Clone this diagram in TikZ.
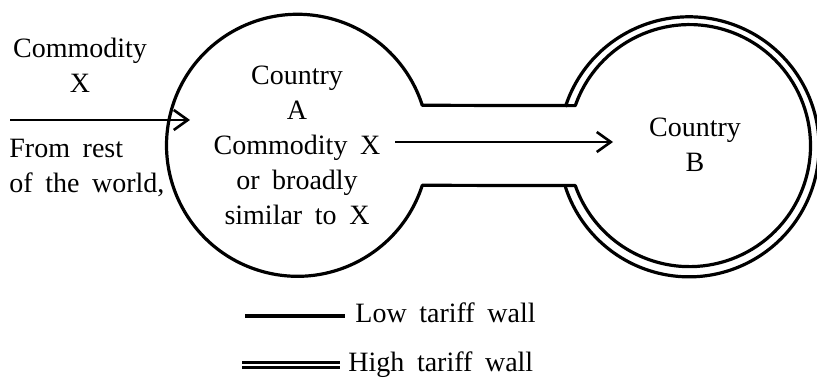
\documentclass[tikz,border=0pt]{standalone}
\usepackage{fontspec}
\setmainfont{Liberation Serif}[WordSpace=1.8]
\usetikzlibrary{positioning, arrows.meta, calc}

\begin{document}
\begin{tikzpicture}[
    x=0.5pt, y=0.5pt,
    >={Straight Barb[length=7pt, width=10pt, line width=1.3pt]},
    every node/.style={font=\fontsize{14}{17.5}\selectfont, inner sep=0pt},
    country/.style={circle, inner sep=0pt, outer sep=0pt},
    wall/.style={line width=1.6pt, line join=round},
    high_wall/.style={double, line width=1.2pt, double distance=1.3pt},
    flow/.style={->, line width=1.3pt},
    label/.style={align=center, anchor=base},
]
    \useasboundingbox (0,0) rectangle (817,379);

    % 1. The two countries (outlines only, arcs drawn below)
    \node[country, minimum size=131pt] (cA) at (297,232) {};
    \node[country, minimum size=130pt] (cBout) at (689,232) {};
    \node[country, minimum size=121pt] (cBin) at (689,232) {};

    % 2. Walls: country A + channel + inner wall of B (low), outer wall of B (high)
    \draw[wall] (cBin.160.7) arc[start angle=160.7, end angle=-160.7, radius=60.5pt]
        -- (cA.-17.78) arc[start angle=-17.78, end angle=-342.22, radius=65.5pt] -- cycle;
    \draw[wall] (cBout.162.08) arc[start angle=162.08, end angle=-162.08, radius=65pt];

    % 3. Labels
    \node[label] (commX) at (80,286) {Commodity\\X};
    \node[align=left, anchor=base west] (rest) at (9,186) {From rest\\of the world,};
    \node[label] (textA) at (297,154) {Country\\A\\Commodity X\\or broadly\\similar to X};
    \node[label] (textB) at (695,207) {Country\\B};

    % 4. Flows
    \coordinate (world) at (10,259);
    \coordinate (intoA) at (190,259);
    \draw[flow] (world) -- (intoA);

    \coordinate (outA) at (395,237);
    \coordinate (intoB) at (613,237);
    \draw[flow] (outA) -- (intoB);

    % 5. Legend
    \coordinate (lowL) at (245,63);
    \coordinate (lowR) at (345,63);
    \draw[wall] (lowL) -- (lowR);
    \node[anchor=base west] (lowTxt) at (355,56) {Low tariff wall};

    \coordinate (highL) at (242,14);
    \coordinate (highR) at (340,14);
    \draw[high_wall] (highL) -- (highR);
    \node[anchor=base west] (highTxt) at (348,7) {High tariff wall};

\end{tikzpicture}
\end{document}
